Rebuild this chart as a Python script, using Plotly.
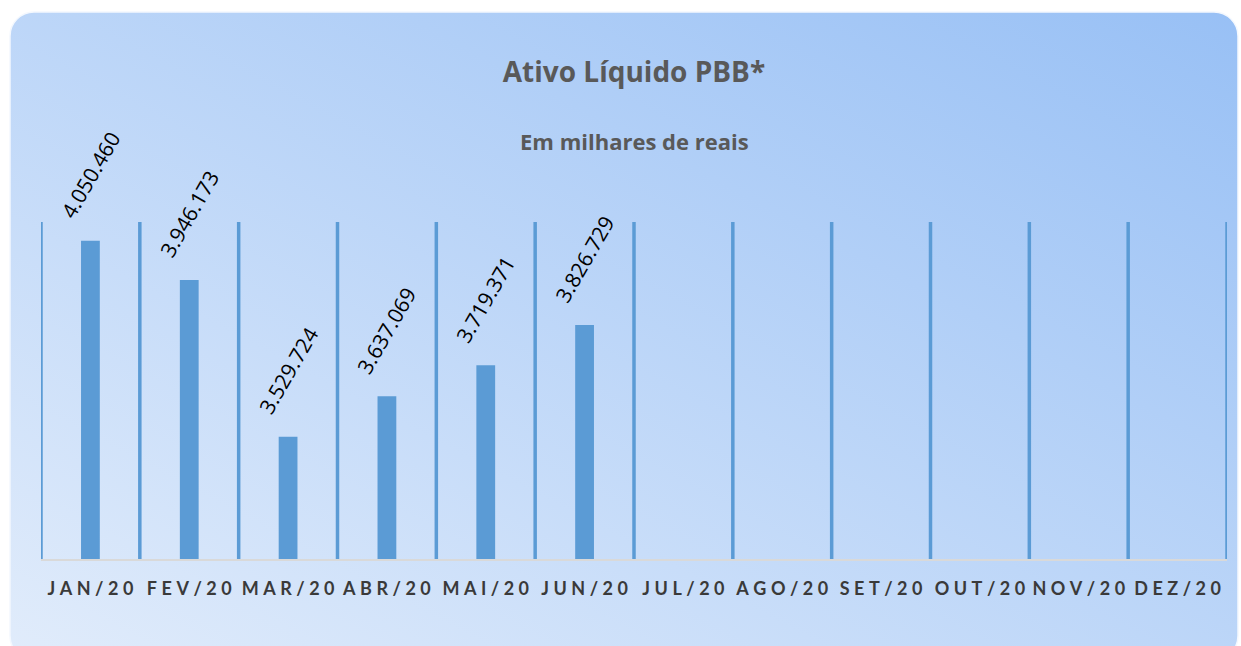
import base64
import plotly.graph_objects as go

months = ["JAN/20", "FEV/20", "MAR/20", "ABR/20", "MAI/20", "JUN/20",
          "JUL/20", "AGO/20", "SET/20", "OUT/20", "NOV/20", "DEZ/20"]
values = [4050460, 3946173, 3529724, 3637069, 3719371, 3826729,
          None, None, None, None, None, None]
title_text = "Ativo Líquido PBB*"
subtitle_text = "Em milhares de reais"

W, H = 1241, 646
L, R, T, B = 41, 14, 222, 87
pw, ph = W - L - R, H - T - B

SP = "\u2005"
ticktext = [SP.join(list(m)) for m in months]
xs = list(range(len(months)))

svg = f'''<svg xmlns="http://www.w3.org/2000/svg" width="{W}" height="{H}" viewBox="0 0 {W} {H}">
<defs><linearGradient id="g" x1="0" y1="1" x2="1" y2="0">
<stop offset="0" stop-color="#e1ecfb"/><stop offset="1" stop-color="#98c0f5"/>
</linearGradient></defs>
<rect x="0" y="0" width="{W}" height="{H}" fill="#ffffff"/>
<rect x="10" y="12" width="1228" height="648" rx="24" ry="24" fill="url(#g)" stroke="#f4f8fe" stroke-width="1.5"/>
</svg>'''
src = "data:image/svg+xml;base64," + base64.b64encode(svg.encode()).decode()

fig = go.Figure()
fig.add_trace(go.Bar(
    x=xs, y=values, width=0.19,
    marker=dict(color="#5b9bd5", line=dict(width=0)),
    hoverinfo="skip",
))

annotations = []
for x, v in zip(xs, values):
    if v is None:
        continue
    annotations.append(dict(
        x=x, y=v, xref="x", yref="y",
        text=f"{v:,}".replace(",", "."),
        textangle=-60, showarrow=False,
        xanchor="center", yanchor="bottom", yshift=15,
        font=dict(family="Open Sans", size=21, color="#000000"),
    ))
annotations.append(dict(
    x=0.5, y=(H - B - 141) / ph, xref="paper", yref="paper",
    text="<b>" + subtitle_text + "</b>", showarrow=False,
    xanchor="center", yanchor="middle",
    font=dict(family="Open Sans", size=22, color="#595959"),
))

shapes = [dict(type="line", xref="x", yref="paper", x0=i - 0.5, x1=i - 0.5, y0=0, y1=1,
               line=dict(color="#5b9bd5", width=3.5), layer="below")
          for i in range(len(months) + 1)]

fig.update_layout(
    width=W, height=H,
    margin=dict(l=L, r=R, t=T, b=B, pad=0),
    paper_bgcolor="#ffffff",
    plot_bgcolor="rgba(0,0,0,0)",
    showlegend=False,
    title=dict(text="<b>" + title_text + "</b>", x=(L + pw / 2) / W, xref="container",
               y=1 - 72 / H, yref="container", xanchor="center", yanchor="middle",
               font=dict(family="Open Sans", size=28, color="#595959")),
    annotations=annotations,
    shapes=shapes,
    images=[dict(source=src, xref="paper", yref="paper",
                 x=-L / pw, y=1 + T / ph, sizex=W / pw, sizey=H / ph,
                 xanchor="left", yanchor="top", sizing="stretch", layer="below")],
    xaxis=dict(
        range=[-0.5, 11.5], tickmode="array", tickvals=xs, ticktext=ticktext,
        showgrid=False, zeroline=False,
        showline=True, linecolor="#d9d9d9", linewidth=2,
        ticks="outside", ticklen=12, tickcolor="rgba(0,0,0,0)",
        tickfont=dict(family="Lato", size=18, color="#3a3a3a", weight="bold"),
        fixedrange=True,
    ),
    yaxis=dict(range=[3205000, 4100000], visible=False, fixedrange=True),
)

fig.write_html("out.html", config={"displayModeBar": False},
               post_script="document.body.style.margin='0';")
